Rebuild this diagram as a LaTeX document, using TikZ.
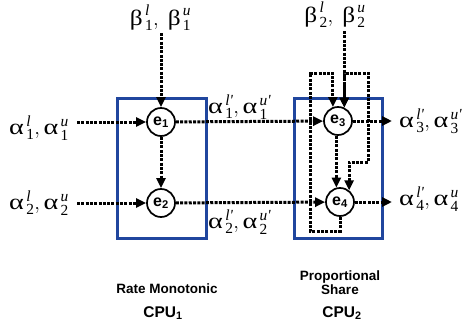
\documentclass[tikz,border=0pt]{standalone}
\usepackage{fontspec}
\usepackage{amsmath}
\usepackage{graphicx}
\setmainfont{Liberation Serif}
\setsansfont{Liberation Sans}
\usetikzlibrary{arrows.meta}
\definecolor{cpublue}{RGB}{32,70,158}
\newcommand{\ga}{\scalebox{1.28}[1]{α}}
\newcommand{\gb}{\scalebox{1.15}[1]{β}}
\newcommand{\gsym}[3]{{\text{#1}\mkern2mu}_{\text{#2}}^{\text{\itshape #3}}}
\newcommand{\pr}{\textquotesingle}
\tikzset{
  tip/.tip={Triangle[length=10pt,width=9pt]},
  dl/.style={line width=3pt, dash pattern=on 3pt off 1.3pt},
  arr/.style={dl, -tip},
  task/.style={circle, draw, line width=1.7pt, minimum size=28pt, inner sep=0pt,
    font=\sffamily\bfseries\fontsize{16}{16}\selectfont},
  cpubox/.style={draw=cpublue, line width=3pt, inner sep=0pt},
  glab/.style={inner sep=0pt, font=\fontsize{22}{26}\selectfont},
  blab/.style={inner sep=0pt, font=\sffamily\bfseries\fontsize{13.5}{16}\selectfont},
  clab/.style={inner sep=0pt, font=\sffamily\bfseries\fontsize{15.5}{18}\selectfont}
}
\begin{document}
\begin{tikzpicture}[x=1pt,y=-1pt]
\useasboundingbox (0,0) rectangle (467,327);
% CPU boxes
\node[cpubox, minimum width=89pt, minimum height=140pt] (cpu1) at (161.5,168) {};
\node[cpubox, minimum width=88pt, minimum height=140pt] (cpu2) at (338,168) {};
% tasks
\node[task] (e1) at (161,122) {e\textsubscript{1}};
\node[task] (e2) at (161,203) {e\textsubscript{2}};
\node[task] (e3) at (338,121) {e\textsubscript{3}};
\node[task] (e4) at (340,202) {e\textsubscript{4}};
% free ends
\coordinate (s1) at (77,122);
\coordinate (s2) at (77,203);
\coordinate (b1) at (161,33);
\coordinate (b2) at (344,31);
\coordinate (o3) at (392,121);
\coordinate (o4) at (392,202);
\coordinate (l1a) at (310,231);
\coordinate (l1b) at (310,73);
\coordinate (l2t) at (368,73);
\coordinate (l2b) at (368,162);
% labels
\node[glab, anchor=base] (lb1) at (160.5,25) {$\gsym{\gb}{1}{l},\ \gsym{\gb}{1}{u}$};
\node[glab, anchor=base] (lb2) at (335,22) {$\gsym{\gb}{2}{l},\ \gsym{\gb}{2}{u}$};
\node[glab, anchor=base west] (la1) at (9,134) {$\gsym{\ga}{1}{l},\gsym{\ga}{1}{u}$};
\node[glab, anchor=base west] (la2) at (9,209) {$\gsym{\ga}{2}{l},\gsym{\ga}{2}{u}$};
\node[glab, anchor=base west] (la1p) at (208,113) {$\gsym{\ga}{1}{l\pr},\gsym{\ga}{1}{u\pr}$};
\node[glab, anchor=base west] (la2p) at (208,228) {$\gsym{\ga}{2}{l\pr},\gsym{\ga}{2}{u\pr}$};
\node[glab, anchor=base west] (la3p) at (399,127) {$\gsym{\ga}{3}{l\pr},\gsym{\ga}{3}{u\pr}$};
\node[glab, anchor=base west] (la4p) at (399,205) {$\gsym{\ga}{4}{l\pr},\gsym{\ga}{4}{u}$};
\node[blab, anchor=base] (rm) at (167,293) {Rate Monotonic};
\node[clab, anchor=base] (c1) at (163,317) {CPU\textsubscript{1}};
\node[blab, anchor=base] (ps1) at (340,280) {Proportional};
\node[blab, anchor=base] (ps2) at (340,294) {Share};
\node[clab, anchor=base] (c2) at (342,317) {CPU\textsubscript{2}};
% connectors
\draw[arr] (b1) -- (e1);
\draw[arr] (s1) -- (e1);
\draw[arr] (s2) -- (e2);
\draw[arr] (e1) -- (e2);
\draw[arr] (e1) -- (e3);
\draw[arr] (e2) -- (e4);
\draw[arr] (e3.65 |- b2) -- (e3.65);
\draw[arr] (e4.104 |- e3.south) -- (e4.104);
\draw[arr] (e3) -- (o3);
\draw[arr] (e4) -- (o4);
\draw[arr] (e4.south) |- (l1a) -- (l1b) -| (e3.110);
\draw[dl, tip-tip] (e4.52) |- (l2b) -- (l2t) -| (e3.65);
\end{tikzpicture}
\end{document}
